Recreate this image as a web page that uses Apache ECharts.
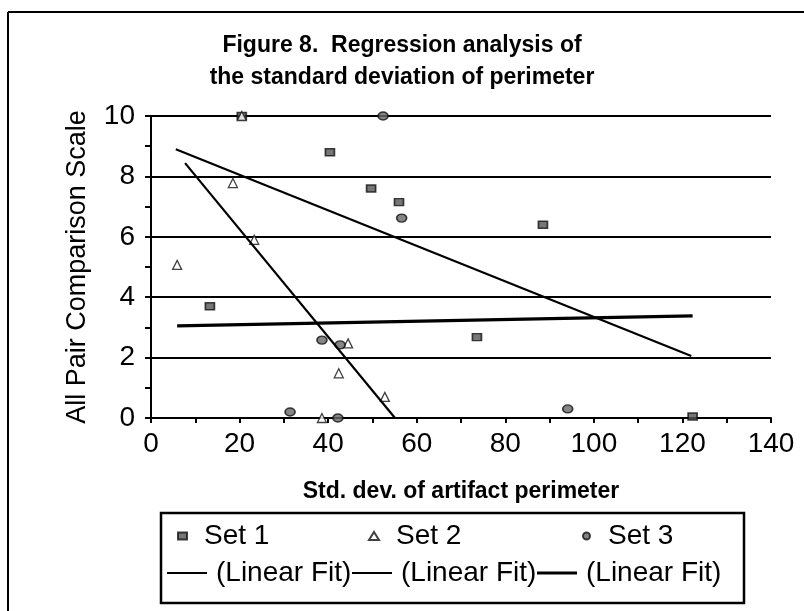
<!DOCTYPE html>
<html>
<head>
<meta charset="utf-8">
<script src="https://cdn.jsdelivr.net/npm/echarts@6/dist/echarts.min.js"></script>
<style>
html, body { margin: 0; padding: 0; background: #fff; }
#chart { width: 804px; height: 611px; }
</style>
</head>
<body>
<div id="chart"></div>
<script>
// points
var set1X = [20.5, 40.4, 49.7, 56.0, 88.5, 73.6, 13.3, 122.3];
var set1Y = [10, 8.8, 7.6, 7.15, 6.4, 2.68, 3.7, 0.05];
var set2X = [20.5, 5.9, 18.5, 23.3, 44.5, 42.4, 52.8, 38.6];
var set2Y = [10, 5.07, 7.78, 5.9, 2.47, 1.48, 0.7, 0];
var set3X = [52.4, 56.6, 38.6, 42.7, 94.1, 31.4, 42.2];
var set3Y = [10, 6.62, 2.58, 2.42, 0.3, 0.2, 0];

// fitted lines (end points)
var fit1X = [5.6, 122.0];
var fit1Y = [8.9, 2.05];
var fit2X = [7.7, 55.1];
var fit2Y = [8.44, 0];
var fit3X = [5.9, 122.3];
var fit3Y = [3.05, 3.38];

var xTicks = [0, 20, 40, 60, 80, 100, 120, 140];
var yTicks = [0, 2, 4, 6, 8, 10];

function pairs(xs, ys) {
  return xs.map(function (x, i) { return [x, ys[i]]; });
}

var font = 'Liberation Sans, Arial, sans-serif';
var chart = echarts.init(document.getElementById('chart'));

var tickStyle = { color: '#000', width: 2 };

var option = {
  animation: false,
  backgroundColor: '#fff',
  title: {
    text: 'Figure 8.  Regression analysis of\nthe standard deviation of perimeter',
    left: 'center',
    top: 25,
    textStyle: { fontFamily: font, fontSize: 23, fontWeight: 'bold', color: '#000', lineHeight: 32 }
  },
  grid: { left: 151, right: 33, top: 116, bottom: 193 },
  xAxis: [
    {
      type: 'value', min: xTicks[0], max: xTicks[xTicks.length - 1], interval: 20,
      axisLine: { show: true, onZero: false, lineStyle: { color: '#000', width: 2 } },
      axisTick: { show: true, length: 5, lineStyle: tickStyle },
      minorTick: { show: true, splitNumber: 2, length: 5, lineStyle: tickStyle },
      splitLine: { show: false },
      axisLabel: { color: '#000', fontFamily: font, fontSize: 28, margin: 12 },
      name: 'Std. dev. of artifact perimeter',
      nameLocation: 'middle',
      nameGap: 62,
      nameTextStyle: { fontFamily: font, fontSize: 23, fontWeight: 'bold', color: '#000' }
    },
    {
      type: 'value', min: 0, max: 140, interval: 20,
      axisLine: { show: false },
      axisTick: { show: true, inside: true, length: 5, lineStyle: tickStyle },
      minorTick: { show: true, splitNumber: 2, length: 5, lineStyle: tickStyle },
      splitLine: { show: false },
      axisLabel: { show: false }
    }
  ],
  yAxis: [
    {
      type: 'value', min: yTicks[0], max: yTicks[yTicks.length - 1], interval: 2,
      axisLine: { show: true, onZero: false, lineStyle: { color: '#000', width: 2 } },
      axisTick: { show: true, length: 6, lineStyle: tickStyle },
      minorTick: { show: true, splitNumber: 2, length: 6, lineStyle: tickStyle },
      splitLine: { show: true, lineStyle: { color: '#000', width: 2 } },
      axisLabel: { color: '#000', fontFamily: font, fontSize: 28, margin: 16 },
      name: 'All Pair Comparison Scale',
      nameLocation: 'middle',
      nameGap: 60,
      nameTextStyle: { fontFamily: font, fontSize: 27, color: '#000' }
    },
    {
      type: 'value', min: 0, max: 10, interval: 2,
      axisLine: { show: false },
      axisTick: { show: true, inside: true, length: 5, lineStyle: tickStyle },
      minorTick: { show: true, splitNumber: 2, length: 5, lineStyle: tickStyle },
      splitLine: { show: false },
      axisLabel: { show: false }
    },
    {
      type: 'value', min: 0, max: 10, position: 'right',
      axisLine: { show: true, lineStyle: { color: '#000', width: 2 } },
      axisTick: { show: false },
      splitLine: { show: false },
      axisLabel: { show: false }
    }
  ],
  legend: [
    { data: ['Set 1'], left: 177, top: 522, itemWidth: 9, itemHeight: 7 },
    { data: ['Set 2'], left: 368, top: 522, itemWidth: 10, itemHeight: 8 },
    { data: ['Set 3'], left: 582, top: 522, itemWidth: 9, itemHeight: 7 },
    { data: ['Fit 1'], left: 167, top: 559, itemWidth: 40, itemHeight: 2, icon: 'rect' },
    { data: ['Fit 2'], left: 352, top: 559, itemWidth: 40, itemHeight: 2, icon: 'rect' },
    { data: ['Fit 3'], left: 537, top: 559, itemWidth: 40, itemHeight: 3, icon: 'rect' }
  ].map(function (l) {
    l.selectedMode = false;
    l.itemGap = 0;
    l.padding = 0;
    if (l.icon) {
      l.formatter = function () { return '(Linear Fit)'; };
    }
    l.textStyle = { fontFamily: font, fontSize: 28, color: '#000', padding: l.icon ? [0, 0, 0, 4] : [0, 0, 0, 12] };
    return l;
  }),
  graphic: [
    { type: 'line', shape: { x1: 8, y1: 12, x2: 804, y2: 12 }, style: { stroke: '#000', lineWidth: 2 } },
    { type: 'line', shape: { x1: 8, y1: 12, x2: 8, y2: 611 }, style: { stroke: '#000', lineWidth: 2 } },
    { type: 'rect', shape: { x: 161, y: 513, width: 583, height: 90 }, style: { fill: 'none', stroke: '#000', lineWidth: 2.5 } }
  ],
  series: [
    {
      name: 'Set 1', type: 'scatter', symbol: 'rect', symbolSize: [9, 7],
      itemStyle: { color: '#555', borderColor: '#111', borderWidth: 1.5 },
      data: pairs(set1X, set1Y)
    },
    {
      name: 'Set 2', type: 'scatter', symbol: 'triangle', symbolSize: 9,
      itemStyle: { color: '#fff', borderColor: '#111', borderWidth: 1.3 },
      data: pairs(set2X, set2Y)
    },
    {
      name: 'Set 3', type: 'scatter', symbol: 'circle', symbolSize: [10, 8],
      itemStyle: { color: '#666', borderColor: '#111', borderWidth: 1.5 },
      data: pairs(set3X, set3Y)
    },
    {
      name: 'Fit 1', type: 'line', symbol: 'none', z: 3,
      lineStyle: { color: '#000', width: 2.2 }, itemStyle: { color: '#000' },
      data: pairs(fit1X, fit1Y)
    },
    {
      name: 'Fit 2', type: 'line', symbol: 'none', z: 3,
      lineStyle: { color: '#000', width: 2.2 }, itemStyle: { color: '#000' },
      data: pairs(fit2X, fit2Y)
    },
    {
      name: 'Fit 3', type: 'line', symbol: 'none', z: 3,
      lineStyle: { color: '#000', width: 3.2 }, itemStyle: { color: '#000' },
      data: pairs(fit3X, fit3Y)
    }
  ]
};

chart.setOption(option);
</script>
</body>
</html>
